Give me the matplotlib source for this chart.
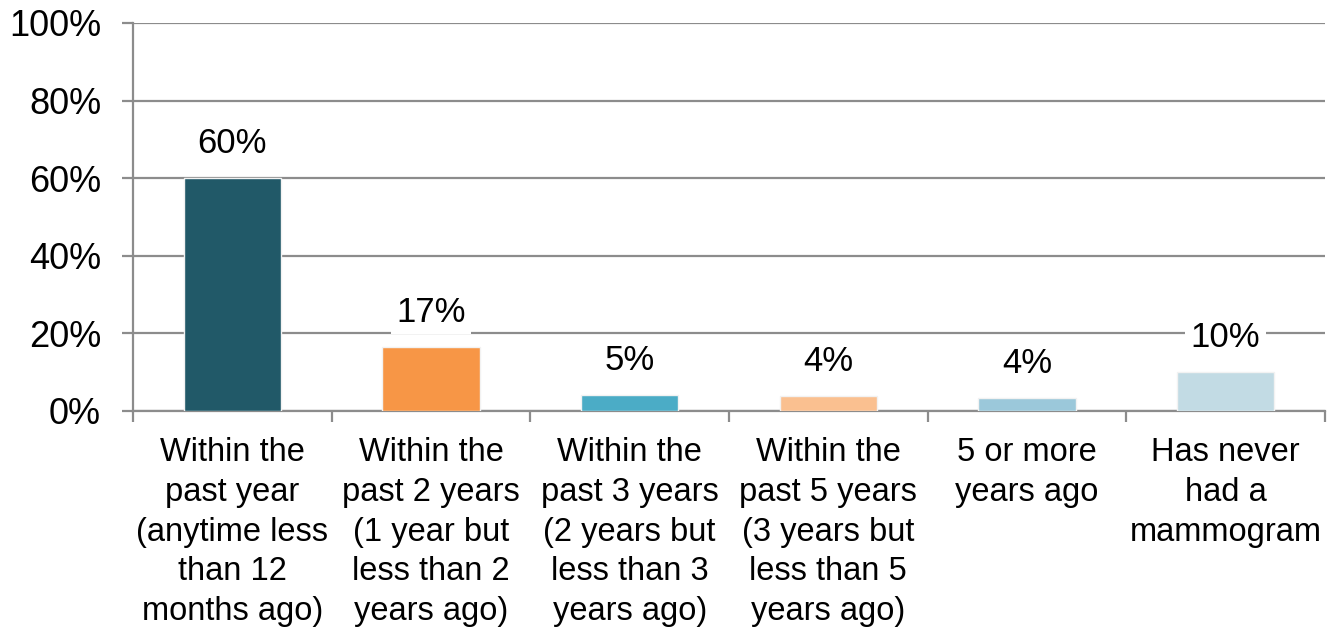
import matplotlib
matplotlib.use("Agg")
import matplotlib.pyplot as plt
from matplotlib.ticker import FixedLocator, PercentFormatter

# Chart data
categories = ["Within the\npast year\n(anytime less\nthan 12\nmonths ago)",
              "Within the\npast 2 years\n(1 year but\nless than 2\nyears ago)",
              "Within the\npast 3 years\n(2 years but\nless than 3\nyears ago)",
              "Within the\npast 5 years\n(3 years but\nless than 5\nyears ago)",
              "5 or more\nyears ago",
              "Has never\nhad a\nmammogram"]
values = [60, 16.5, 4.0, 3.8, 3.4, 10]
value_labels = ["60%", "17%", "5%", "4%", "4%", "10%"]
colors = ["#215968", "#F79646", "#4BACC6", "#FAC090", "#9BC8DA", "#C2DBE4"]
yticks = [0, 20, 40, 60, 80, 100]

plt.rcParams['font.family'] = ['Liberation Sans', 'DejaVu Sans']
grey = "#8c8c8c"

fig = plt.figure(figsize=(13.39, 6.27), dpi=100, facecolor="white")
ax = fig.add_axes([133/1339, 216/627, 1192/1339, 388/627])

x = list(range(len(categories)))
ax.bar(x, values, width=0.49, color=colors, edgecolor="#f2f2f2",
       linewidth=1.0, zorder=3)

for xi, v, lab in zip(x, values, value_labels):
    ax.annotate(lab, (xi, v), xytext=(0, 25), textcoords="offset points",
                ha="center", va="center", fontsize=25, zorder=4,
                bbox=dict(facecolor="white", edgecolor="none", pad=4))

ax.set_xlim(-0.5, len(categories) - 0.5)
ax.set_ylim(0, 100)
ax.yaxis.set_major_locator(FixedLocator(yticks))
ax.yaxis.set_major_formatter(PercentFormatter(decimals=0))
ax.grid(axis="y", color=grey, linewidth=1.6, zorder=0)
ax.set_axisbelow(True)

ax.set_xticks(x)
ax.set_xticklabels(categories, fontsize=23.5, linespacing=1.36)
ax.set_xticks([i - 0.5 for i in range(len(categories) + 1)], minor=True)
ax.tick_params(axis="x", which="major", length=0, pad=19)
ax.tick_params(axis="x", which="minor", length=8, width=1.6, color=grey)
ax.tick_params(axis="y", length=8, width=1.6, color=grey, labelsize=26, pad=15)

for s in ["top", "right"]:
    ax.spines[s].set_visible(False)
for s in ["left", "bottom"]:
    ax.spines[s].set_color(grey)
    ax.spines[s].set_linewidth(1.6)

fig.savefig("out.png", dpi=100, facecolor="white")
